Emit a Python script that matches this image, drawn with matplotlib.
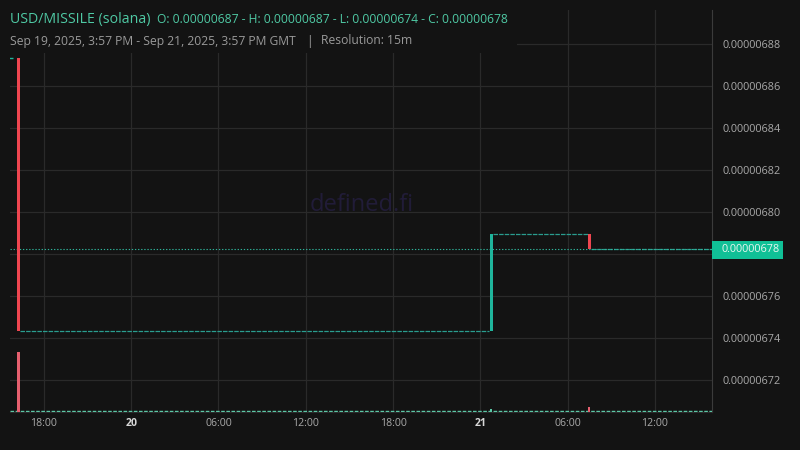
import matplotlib
matplotlib.use("Agg")
import matplotlib.pyplot as plt
import pandas as pd
from matplotlib.patches import Rectangle

# ---------------- data ----------------
candle_times = ["2025-09-19 15:45", "2025-09-19 16:15", "2025-09-21 00:45", "2025-09-21 07:30"]
opens = [6.8733e-6, 6.8733e-6, 6.7435e-6, 6.7895e-6]
closes = [6.8733e-6, 6.7435e-6, 6.7895e-6, 6.7824e-6]
volumes = [28, 1520, 75, 135]
last_price = 6.7824e-6

view_start = "2025-09-19 15:40"
view_end = "2025-09-21 15:56"

xtick_times = ["2025-09-19 18:00", "2025-09-20 00:00", "2025-09-20 06:00", "2025-09-20 12:00",
               "2025-09-20 18:00", "2025-09-21 00:00", "2025-09-21 06:00", "2025-09-21 12:00"]
xtick_labels = ["18:00", "20", "06:00", "12:00", "18:00", "21", "06:00", "12:00"]
ytick_values = [6.72e-6, 6.74e-6, 6.76e-6, 6.78e-6, 6.80e-6, 6.82e-6, 6.84e-6, 6.86e-6, 6.88e-6]

title = "USD/MISSILE (solana)"
ohlc_text = "O: 0.00000687 - H: 0.00000687 - L: 0.00000674 - C: 0.00000678"
subtitle = "Sep 19, 2025, 3:57 PM - Sep 21, 2025, 3:57 PM GMT"
resolution = "Resolution: 15m"
watermark = "defined.fi"

# ---------------- style ----------------
BG = "#131313"
GRID = "#2a2a2a"
TXT = "#a9a9a9"
TEAL_T = "#4fc9a4"
UP = "#1fb59c"
DOWN = "#ef4650"
VOL_UP = "#5cc7a6"
VOL_DOWN = "#e6606f"
FLAT = "#2a9d8f"

plt.rcParams['font.family'] = ['Open Sans', 'DejaVu Sans']

W, H = 800, 450
fig = plt.figure(figsize=(8, 4.5), dpi=100, facecolor=BG)

def fx(px):
    return px / W

def fy(py):
    return 1 - py / H

ax_l, ax_r, ax_t, ax_b = 10, 712, 10, 412
ax = fig.add_axes([fx(ax_l), fy(ax_b), (ax_r - ax_l) / W, (ax_b - ax_t) / H])
ax.set_facecolor(BG)

t0 = pd.Timestamp("2025-09-19 00:00")
def hrs(s):
    return (pd.Timestamp(s) - t0) / pd.Timedelta(hours=1)

x = [hrs(t) for t in candle_times]
xs, xe = hrs(view_start), hrs(view_end)
bw = 0.19  # candle width (hours)

# volume overlay (created first: twinx resets parent's tick side)
axv = ax.twinx()

# flat (no-trade) stretches after each candle at its close
for i in range(1, len(x)):
    start = x[i] + bw / 2 + 0.02
    end = x[i + 1] - bw / 2 - 0.02 if i + 1 < len(x) else xe
    ax.plot([start, end], [closes[i], closes[i]], color=FLAT, lw=0.9,
            dashes=(3.6, 0.9), solid_capstyle='butt', zorder=3)

# candles
for xi, o, c in zip(x, opens, closes):
    if o == c:
        ax.plot([xi - 0.2, xi + 0.1], [o, o], color=UP, lw=1.0, zorder=4, solid_capstyle='butt')
    else:
        col = UP if c > o else DOWN
        ax.bar(xi, abs(c - o), bottom=min(o, c), width=bw, color=col, zorder=4, linewidth=0)

# last price line
ax.axhline(last_price, color="#2fb39a", lw=0.8, linestyle=(0, (1.2, 1.6)), zorder=3)

ylo, yhi = 6.7049e-6, 6.8963e-6
ax.set_ylim(ylo, yhi)
ax.set_xlim(xs, xe)

ax.set_yticks(ytick_values)
# the label at the last price sits under the price badge
ax.set_yticklabels(["" if abs(v - last_price) < 1e-8 else f"{v:.8f}" for v in ytick_values])
ax.yaxis.tick_right()
ax.yaxis.set_label_position("right")
ax.set_xticks([hrs(t) for t in xtick_times])
ax.set_xticklabels(xtick_labels)
ax.tick_params(axis='y', which='both', left=False, labelleft=False, right=False, labelright=True,
               length=0, pad=7.5, labelsize=7.8, labelcolor=TXT)
ax.tick_params(axis='x', length=0, pad=4.5, labelsize=7.6, labelcolor=TXT)
for lbl in ax.get_xticklabels():
    if lbl.get_text() in ("20", "21"):
        lbl.set_fontweight('bold')
        lbl.set_color("#d8d8d8")
ax.grid(True, color=GRID, lw=0.9)
for s in ("left", "top"):
    ax.spines[s].set_visible(False)
ax.spines["right"].set_color("#3b3b3b")
ax.spines["bottom"].set_color("#2c2c2c")

ax.text((362 - ax_l) / (ax_r - ax_l), 1 - (205 - ax_t) / (ax_b - ax_t), watermark,
        transform=ax.transAxes, ha='center', va='center', fontsize=17, color="#211c38", zorder=1)

axv.set_ylim(0, volumes[1] * 6.75)
axv.set_xlim(xs, xe)
axv.axis('off')
vol_cols = [VOL_UP if c >= o else VOL_DOWN for o, c in zip(opens, closes)]
axv.bar(x[1:], volumes[1:], width=0.14, color=vol_cols[1:], linewidth=0, zorder=3)
# tiny volumes of the no-trade candles form a dashed baseline
axv.axhline(volumes[0], color=VOL_UP, lw=1.0, dashes=(2.6, 1.1), zorder=2)

# header box hides grid behind title
fig.add_artist(Rectangle((0, fy(53)), fx(517), 1 - fy(53), transform=fig.transFigure,
                         facecolor=BG, edgecolor='none', zorder=2))
fig.text(fx(10), fy(19), title, color=TEAL_T, fontsize=10.2, va='center', ha='left', zorder=3)
fig.text(fx(157), fy(19.5), ohlc_text, color=TEAL_T, fontsize=8.7, va='center', ha='left', zorder=3)
fig.text(fx(10), fy(41), subtitle, color="#9a9a9a", fontsize=8.7, va='center', ha='left', zorder=3)
fig.text(fx(306), fy(41), "|", color="#9a9a9a", fontsize=8.7, va='center', ha='left', zorder=3)
fig.text(fx(321), fy(41), resolution, color="#9a9a9a", fontsize=8.7, va='center', ha='left', zorder=3)

# last price badge
fig.add_artist(Rectangle((fx(712), fy(259)), fx(783) - fx(712), fy(241) - fy(259),
                         transform=fig.transFigure, facecolor="#10c096", edgecolor='none', zorder=4))
fig.text(fx(722), fy(250), f"{last_price:.8f}", color="#eaf7f1", fontsize=7.8,
         va='center', ha='left', zorder=5)

fig.savefig("out.png", dpi=100, facecolor=BG)
